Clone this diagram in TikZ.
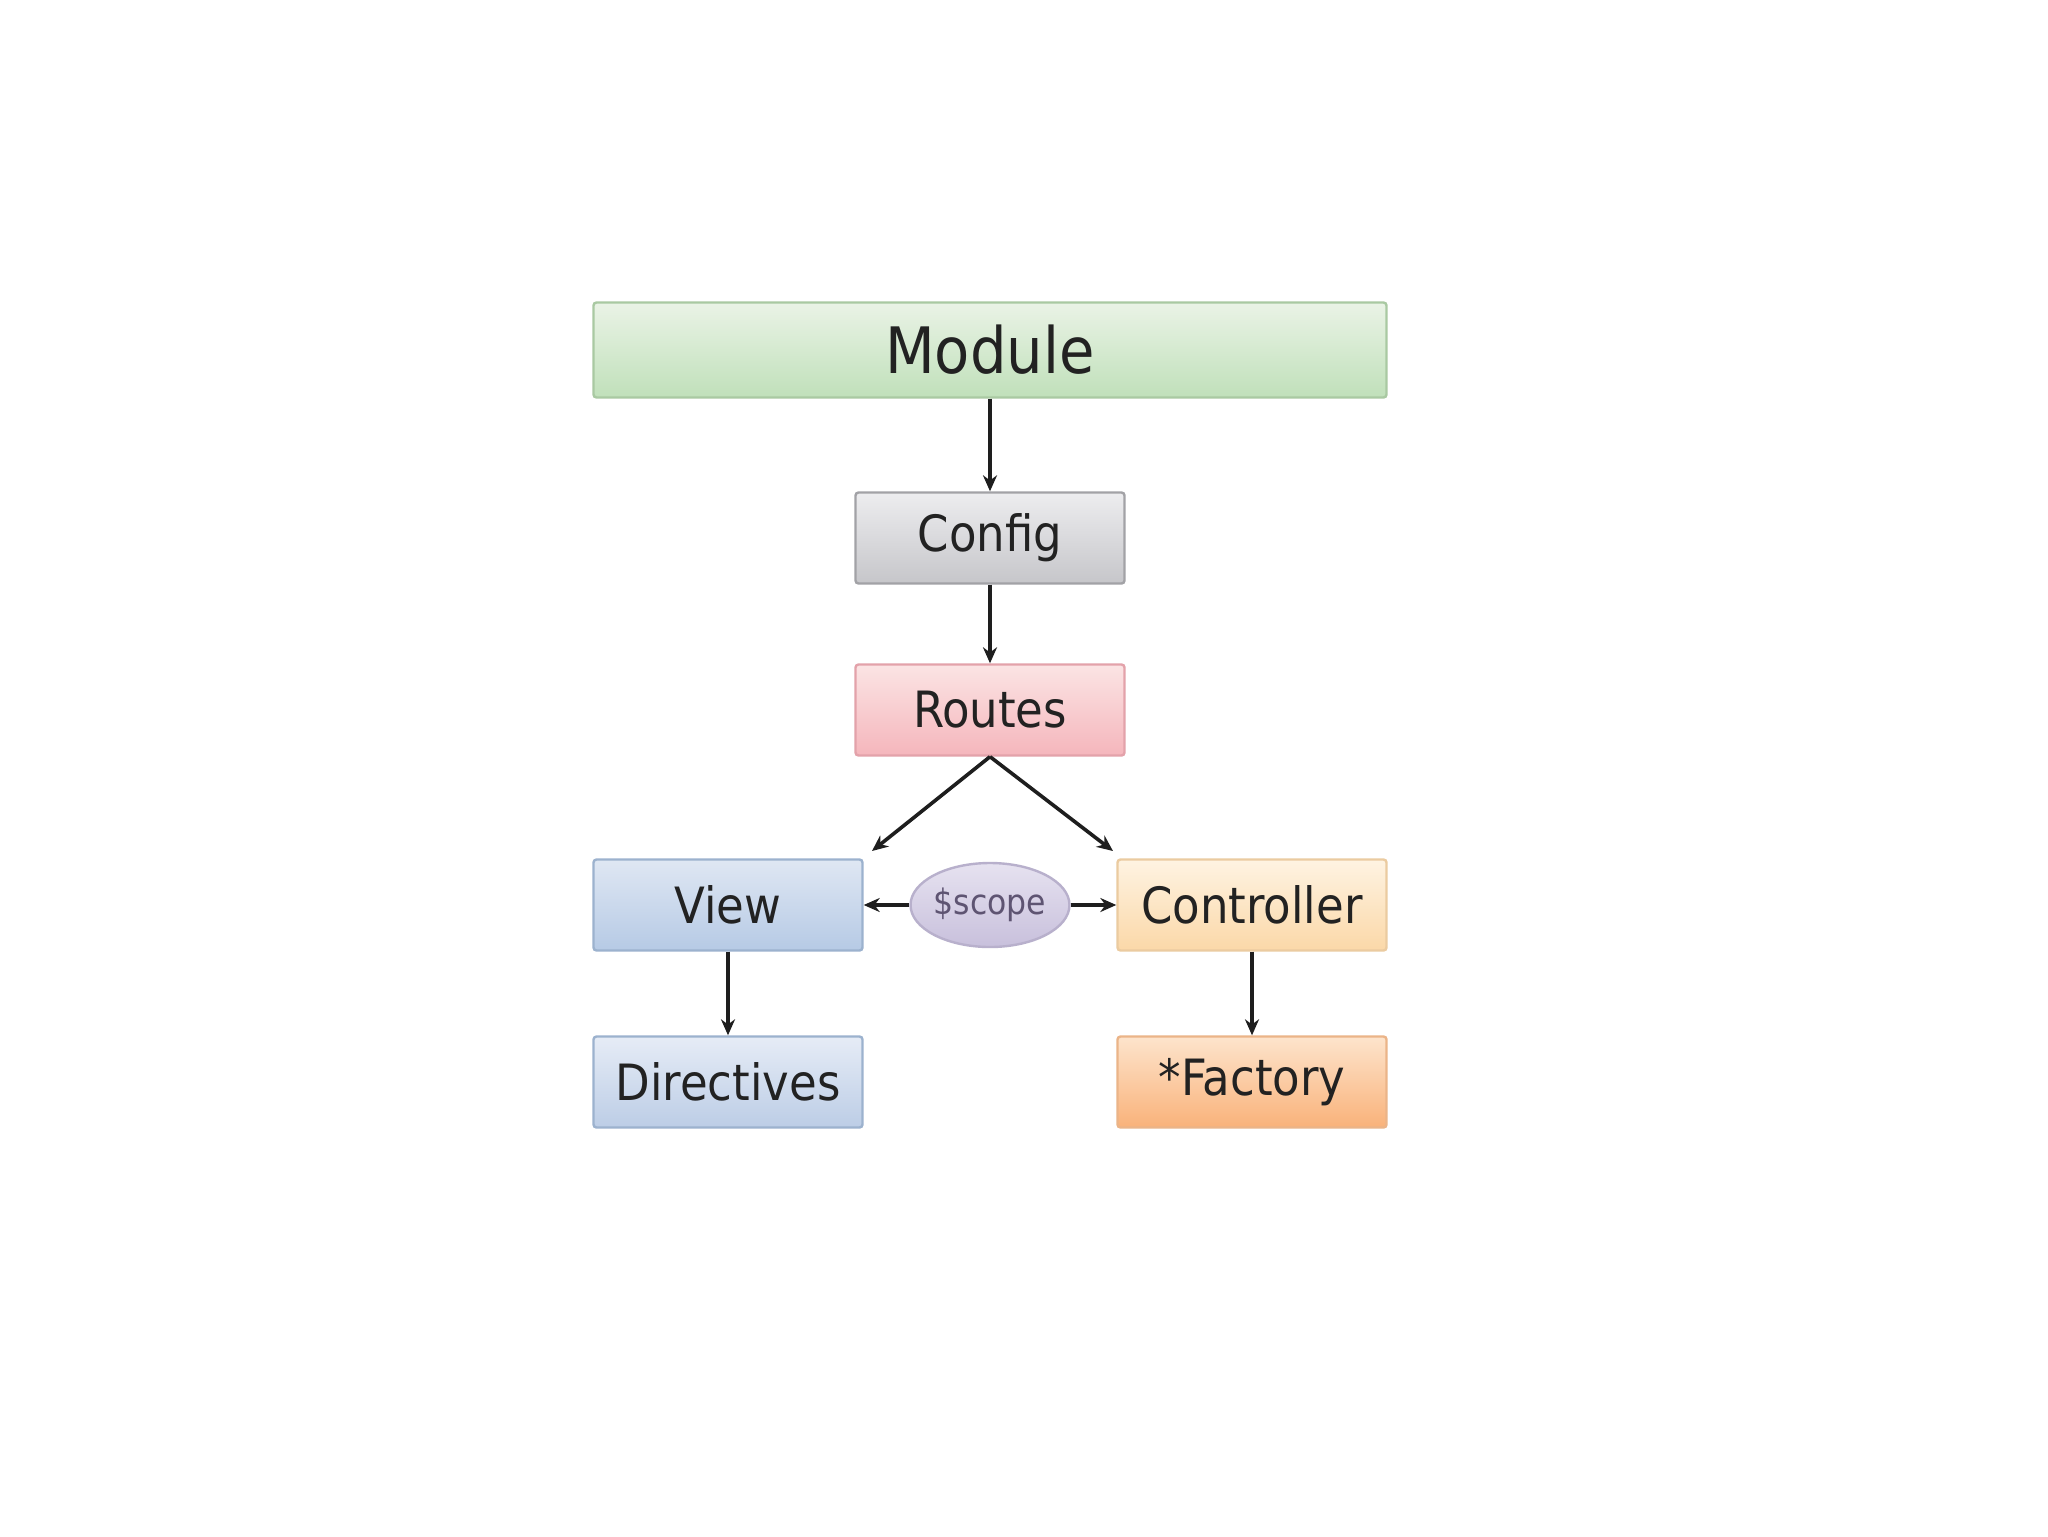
\documentclass[tikz,border=0pt]{standalone}
\usepackage{fontspec}
\setmainfont{DejaVu Sans Condensed}
\usetikzlibrary{arrows.meta,shapes.geometric}
\definecolor{txt}{HTML}{222222}
\definecolor{ln}{HTML}{1E1E1E}
\definecolor{gD}{HTML}{A9C9A2}\definecolor{gT}{HTML}{EAF3E6}\definecolor{gB}{HTML}{C0E0BA}
\definecolor{cD}{HTML}{A2A2A6}\definecolor{cT}{HTML}{EDEDEF}\definecolor{cB}{HTML}{C6C6CA}
\definecolor{rD}{HTML}{E3A2AA}\definecolor{rT}{HTML}{FBE4E4}\definecolor{rB}{HTML}{F5B6BC}
\definecolor{vD}{HTML}{9CB2CE}\definecolor{vT}{HTML}{DFE7F3}\definecolor{vB}{HTML}{B6CAE5}
\definecolor{dT}{HTML}{E6ECF6}\definecolor{dB}{HTML}{BCCDE6}
\definecolor{kD}{HTML}{EBCBA0}\definecolor{kT}{HTML}{FEF3E2}\definecolor{kB}{HTML}{FBD8A8}
\definecolor{fD}{HTML}{EBB488}\definecolor{fT}{HTML}{FDE4CC}\definecolor{fB}{HTML}{F9B27A}
\definecolor{sD}{HTML}{B8B0CC}\definecolor{sT}{HTML}{E6E2F0}\definecolor{sB}{HTML}{C8C0DC}
\definecolor{sTxt}{HTML}{5E5472}
\tikzset{
  box/.style={draw, line width=1.2pt, rounded corners=1.5pt, inner sep=0pt,
    minimum width=134.5pt, minimum height=45.5pt, text=txt, font=\fontsize{25}{28}\selectfont},
  conn/.style={draw=ln, line width=1.8pt, -{Stealth[length=8pt,width=7pt]}},
}
\begin{document}
\begin{tikzpicture}[x=0.5pt,y=-0.5pt]
\useasboundingbox[fill=white] (0,0) rectangle (2048,1536);
\node[box, draw=gD, top color=gT, bottom color=gB,
  minimum width=396.5pt, minimum height=47.5pt, font=\fontsize{32}{36}\selectfont] (module) at (990,350) {Module};
\node[box, draw=cD, top color=cT, bottom color=cB] (config) at (990,538) {Config};
\node[box, draw=rD, top color=rT, bottom color=rB] (routes) at (990,710) {Routes};
\node[box, draw=vD, top color=vT, bottom color=vB] (view) at (728,905) {View};
\node[box, draw=kD, top color=kT, bottom color=kB] (controller) at (1252,905) {Controller};
\node[box, draw=vD, top color=dT, bottom color=dB] (directives) at (728,1082) {Directives};
\node[box, draw=fD, top color=fT, bottom color=fB] (factory) at (1252,1082) {*Factory};
\node[ellipse, draw=sD, line width=1.2pt, top color=sT, bottom color=sB, inner sep=0pt,
  minimum width=73pt, minimum height=42pt, text=sTxt, font=\fontsize{17.5}{20}\selectfont] (scope) at (990,905) {\$scope};
\coordinate (rl) at (872,851);
\coordinate (rr) at (1113,851);
\draw[conn] (module.south) -- (config.north);
\draw[conn] (config.south) -- (routes.north);
\draw[conn] (routes.south) -- (rl);
\draw[conn] (routes.south) -- (rr);
\draw[conn] (scope.west) -- (view.east);
\draw[conn] (scope.east) -- (controller.west);
\draw[conn] (view.south) -- (directives.north);
\draw[conn] (controller.south) -- (factory.north);
\end{tikzpicture}
\end{document}
